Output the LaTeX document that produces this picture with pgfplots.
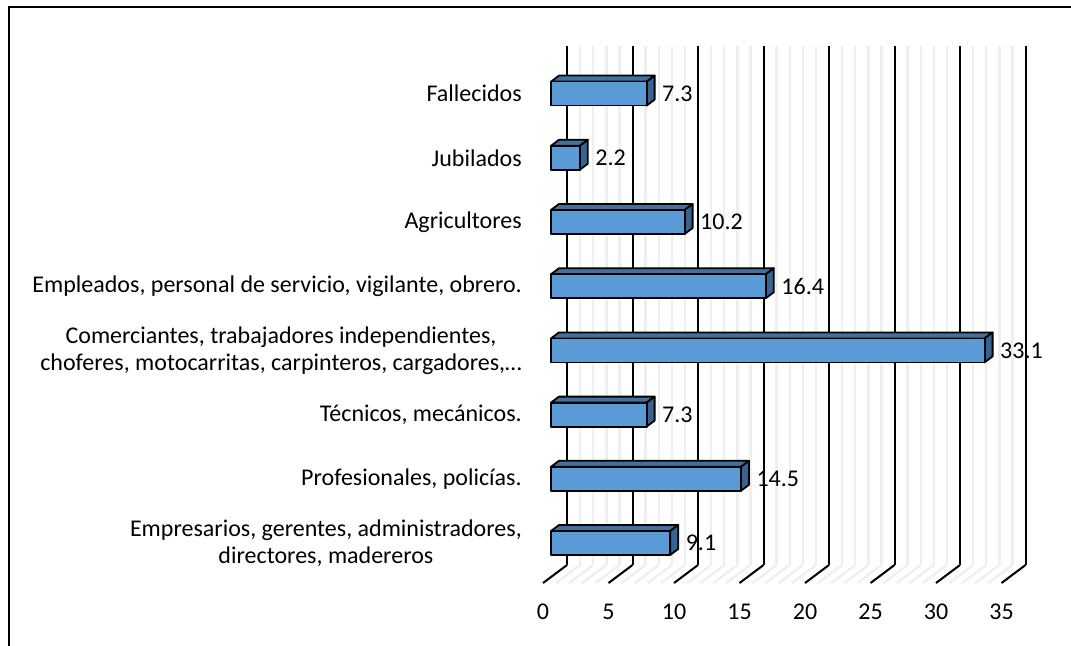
\documentclass[border=0pt]{standalone}
\usepackage{fontspec}
\setmainfont{Carlito}
\usepackage{pgfplots}
\pgfplotsset{compat=1.18}
\usepackage{pgfplotstable}
\definecolor{barfront}{HTML}{5B9BD5}
\definecolor{bartop}{HTML}{41719C}
\definecolor{barside}{HTML}{386290}
\definecolor{minorgrid}{HTML}{EFEFEF}

\pgfplotstableread{
idx val
0 9.1
1 14.5
2 7.3
3 33.1
4 16.4
5 10.2
6 2.2
7 7.3
}\datatable

\newcommand{\px}{0.75pt}
\newcommand{\lblfont}{\fontsize{18pt}{20.5pt}\selectfont}

\begin{document}
\begin{tikzpicture}
\useasboundingbox (0,0) rectangle (803.25pt,-484.5pt);
\begin{scope}
\clip (0,0) rectangle (803.25pt,-484.5pt);
\draw[line width=1.5pt] (6.75pt,-600pt) |- (900pt,-5.25pt);
\end{scope}

% back wall and floor
\begin{axis}[
  anchor=origin, at={(567*\px,-531*\px)},
  x=9.825pt, y=48.15pt,
  xmin=0, xmax=35, ymin=-0.53, ymax=7.55,
  axis line style={draw=none},
  major tick length=0pt, minor tick length=0pt,
  xtick={0,5,...,35}, ytick=\empty,
  xticklabels={},
  minor x tick num=4,
  xmajorgrids, xminorgrids,
  major grid style={black, line width=1.5pt},
  minor grid style={minorgrid, line width=1.8pt},
  clip=false,
]
\pgfplotsinvokeforeach{0,1,...,35}{
  \draw[minorgrid, line width=1.8pt] (axis cs:#1,-0.53) -- ++(-18pt,-13.5pt);
}
\pgfplotsinvokeforeach{0,5,...,35}{
  \draw[black, line width=1.5pt] (axis cs:#1,-0.53) -- ++(-18pt,-13.5pt);
}
\end{axis}

% bars
\begin{axis}[
  anchor=origin, at={(551*\px,-543*\px)},
  x=9.825pt, y=48.15pt,
  xmin=0, xmax=35, ymin=-0.53, ymax=7.55,
  axis line style={draw=none},
  major tick length=0pt,
  xtick={0,5,...,35},
  ytick={0,...,7},
  yticklabels={{Empresarios, gerentes, administradores,\\ directores, madereros},
    {Profesionales, policías.},
    {Técnicos, mecánicos.},
    {Comerciantes, trabajadores independientes,\\ choferes, motocarritas, carpinteros, cargadores,…},
    {Empleados, personal de servicio, vigilante, obrero.},
    {Agricultores}, {Jubilados}, {Fallecidos}},
  yticklabel style={align=center, anchor=east, inner sep=0pt, xshift=-29*\px},
  xticklabel style={anchor=center, inner sep=0pt, xshift=-8*\px, yshift=-35*\px},
  tick label style={font=\lblfont, text=black},
  /pgf/number format/assume math mode=true,
  clip=false,
]
\addplot[
  scatter, only marks, mark=*, mark size=0pt,
  mark options={draw=none, fill=none},
  visualization depends on={\thisrow{val} \as \barval},
  scatter/@pre marker code/.code={%
    \pgfmathsetlengthmacro{\wl}{-\barval*9.825pt}%
    \pgfmathsetlengthmacro{\wlb}{-\barval*9.825pt+6pt}%
    \filldraw[fill=bartop, draw=black, line width=1.35pt, line join=round]
      (\wl,9pt) -- (0pt,9pt) -- (6pt,13.5pt) -- (\wlb,13.5pt) -- cycle;
    \filldraw[fill=barside, draw=black, line width=1.35pt, line join=round]
      (0pt,-9pt) -- (0pt,9pt) -- (6pt,13.5pt) -- (6pt,-4.5pt) -- cycle;
    \filldraw[fill=barfront, draw=black, line width=1.35pt, line join=round]
      (\wl,-9pt) rectangle (0pt,9pt);
    \node[anchor=west, inner sep=0pt, font=\lblfont, text=black] at (11.5pt,0pt)
      {\pgfmathprintnumber[fixed,precision=1,fixed zerofill]{\barval}};
  },
  scatter/@post marker code/.code={},
] table[x=val, y=idx] {\datatable};
\end{axis}
\end{tikzpicture}
\end{document}
